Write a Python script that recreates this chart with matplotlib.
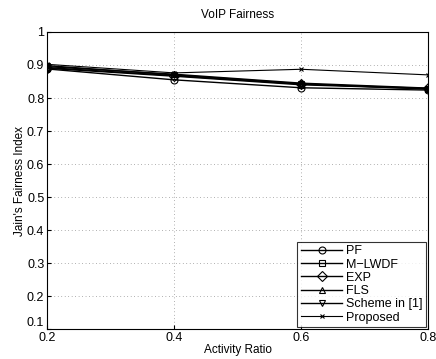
import matplotlib
matplotlib.use("Agg")
import matplotlib.pyplot as plt

plt.rcParams['font.family'] = ['Liberation Sans', 'DejaVu Sans']
plt.rcParams['font.size'] = 9

ratio = [0.2, 0.4, 0.6, 0.8]
pf = [0.888, 0.855, 0.831, 0.824]
mlwdf = [0.890, 0.866, 0.840, 0.828]
exp_ = [0.892, 0.868, 0.842, 0.829]
fls = [0.895, 0.872, 0.845, 0.830]
scheme1 = [0.898, 0.870, 0.843, 0.827]
proposed = [0.902, 0.876, 0.887, 0.870]

series = [
    ("PF", pf, "o"),
    ("M\u2212LWDF", mlwdf, "s"),
    ("EXP", exp_, "D"),
    ("FLS", fls, "^"),
    ("Scheme in [1]", scheme1, "v"),
    ("Proposed", proposed, "x"),
]

fig = plt.figure(figsize=(4.36, 3.59), dpi=100)
ax = fig.add_axes([0.108, 0.083, 0.874, 0.828])

for name, vals, m in series:
    ms = 3.5 if m == "x" else 5
    lw = 0.8 if m == "x" else 1.0
    ax.plot(ratio, vals, color="black", marker=m, markersize=ms, lw=lw,
            markerfacecolor="none", markeredgecolor="black", markeredgewidth=0.8, label=name)

ax.set_xlim(0.2, 0.8)
ax.set_ylim(0.1, 1.0)
ax.set_xticks([0.2, 0.4, 0.6, 0.8])
ax.set_yticks([0.1, 0.2, 0.3, 0.4, 0.5, 0.6, 0.7, 0.8, 0.9, 1.0])
ax.set_yticklabels(["0.1", "0.2", "0.3", "0.4", "0.5", "0.6", "0.7", "0.8", "0.9", "1"])
ax.get_yticklabels()[0].set_va("bottom")  # lift "0.1" off the "0.2" below it
ax.grid(True, linestyle=(0, (1, 4)), color="black", lw=0.5, alpha=0.6)
ax.tick_params(direction="in", length=3, labelsize=9, pad=2)
ax.tick_params(axis="x", pad=2)
ax.set_title("VoIP Fairness", fontsize=8.5, pad=10)
ax.set_xlabel("Activity Ratio", fontsize=8.5, labelpad=0)
ax.set_ylabel("Jain's Fairness Index", fontsize=8.5, labelpad=1)
for s in ax.spines.values():
    s.set_linewidth(0.8)

leg = ax.legend(loc="lower right", fontsize=9, frameon=True, fancybox=False,
                edgecolor="black", borderaxespad=0.15, handlelength=3.3,
                labelspacing=0.1, borderpad=0.3, handletextpad=0.3)
leg.get_frame().set_linewidth(0.8)

fig.savefig("out.png", dpi=100)
